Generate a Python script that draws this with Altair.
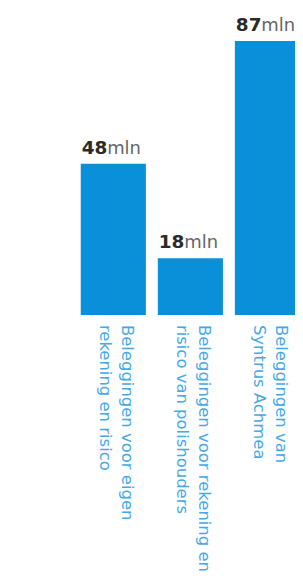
import altair as alt
import pandas as pd

# --- data ---
categories = ["eigen", "polishouders", "syntrus"]
values = [48, 18, 87]
value_labels = ["48", "18", "87"]
unit = "mln"
label_lines = [
    "Beleggingen voor eigen\nrekening en risico",
    "Beleggingen voor rekening en\nrisico van polishouders",
    "Beleggingen van\nSyntrus Achmea",
]

BLUE = "#0a8fd9"
LABEL_BLUE = "#45a9e8"

df = pd.DataFrame({
    "cat": categories,
    "value": values,
    "num": value_labels,
    "unit": [unit] * len(categories),
    "label": label_lines,
})

# the third bar runs off the right edge of the picture, as in the reference
xscale = alt.Scale(paddingInner=0.155, paddingOuter=0, range=[0, 220])
yscale = alt.Scale(domain=[0, 90], nice=False)

base = alt.Chart(df)

bars = base.mark_bar(color=BLUE).encode(
    x=alt.X("cat:N", sort=categories, axis=None, scale=xscale),
    y=alt.Y("value:Q", axis=None, scale=yscale),
)

nums = base.mark_text(
    align="left", baseline="alphabetic", dy=-10, dx=1,
    font="DejaVu Sans", fontWeight="bold", fontSize=18.5, color="#2b2b2b",
).encode(
    x=alt.X("cat:N", sort=categories, axis=None, scale=xscale, bandPosition=0),
    y=alt.Y("value:Q", axis=None, scale=yscale),
    text="num:N",
)

units = base.mark_text(
    align="left", baseline="alphabetic", dy=-10, dx=26.5,
    font="DejaVu Sans", fontSize=18, color="#666666",
).encode(
    x=alt.X("cat:N", sort=categories, axis=None, scale=xscale, bandPosition=0),
    y=alt.Y("value:Q", axis=None, scale=yscale),
    text="unit:N",
)

labels = base.mark_text(
    angle=90, align="left", baseline="middle", dx=10, dy=-14,
    lineBreak="\n", lineHeight=22,
    font="DejaVu Sans", fontSize=16.5, color=LABEL_BLUE,
).encode(
    x=alt.X("cat:N", sort=categories, axis=None, scale=xscale),
    y=alt.Y(datum=0, axis=None, scale=yscale),
    text="label:N",
)

chart = alt.layer(bars, nums, units, labels).properties(
    width=215,
    height=284.4,
    autosize=alt.AutoSizeParams(type="none"),
    padding={"left": 73, "top": 22.6, "right": 0, "bottom": 260},
    background="white",
).configure_view(strokeWidth=0)

chart.save("out.html", embed_options={"renderer": "svg", "actions": False})
